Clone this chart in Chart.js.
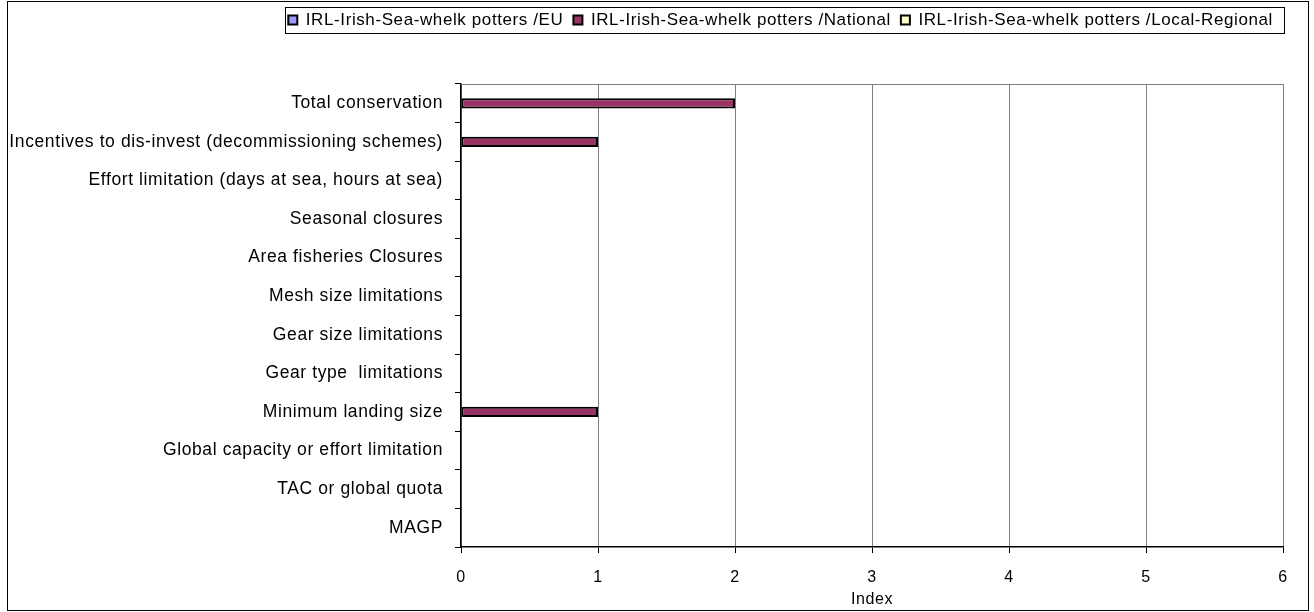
<!DOCTYPE html>
<html>
<head>
<meta charset="utf-8">
<script src="https://cdn.jsdelivr.net/npm/chart.js@4"></script>
<style>
  html, body { margin: 0; padding: 0; background: #fff; }
  #wrap { width: 1314px; height: 612px; }
</style>
</head>
<body>
<div id="wrap"><canvas id="chart" width="1314" height="612"></canvas></div>
<script>
const categories = [
  'Total conservation',
  'Incentives to dis-invest (decommissioning schemes)',
  'Effort limitation (days at sea, hours at sea)',
  'Seasonal closures',
  'Area fisheries Closures',
  'Mesh size limitations',
  'Gear size limitations',
  'Gear type  limitations',
  'Minimum landing size',
  'Global capacity or effort limitation',
  'TAC or global quota',
  'MAGP'
];
const seriesNames = [
  'IRL-Irish-Sea-whelk potters /EU',
  'IRL-Irish-Sea-whelk potters /National',
  'IRL-Irish-Sea-whelk potters /Local-Regional'
];
const euValues       = [0, 0, 0, 0, 0, 0, 0, 0, 0, 0, 0, 0];
const nationalValues = [2, 1, 0, 0, 0, 0, 0, 0, 1, 0, 0, 0];
const localValues    = [0, 0, 0, 0, 0, 0, 0, 0, 0, 0, 0, 0];
const xTicks = [0, 1, 2, 3, 4, 5, 6];

const FONT = "'Liberation Sans', Arial, sans-serif";
const SPACING = '0.6px';

// letter spacing, frame round the chart, box round the legend, top edge of plot
const framePlugin = {
  id: 'frame',
  beforeInit(chart) {
    const fit = chart.legend.fit;
    chart.legend.fit = function () {
      fit.call(this);
      this.height = 82.5;
    };
  },
  beforeLayout(chart) { chart.ctx.letterSpacing = SPACING; },
  beforeDraw(chart) { chart.ctx.letterSpacing = SPACING; },
  afterDraw(chart) {
    const ctx = chart.ctx;
    ctx.save();
    ctx.strokeStyle = '#000';
    ctx.lineWidth = 1;
    ctx.strokeRect(7.5, 1.5, 1301, 609);
    const boxes = chart.legend.legendHitBoxes;
    if (boxes && boxes.length) {
      const l = Math.min(...boxes.map(b => b.left));
      const r = Math.max(...boxes.map(b => b.left + b.width));
      ctx.strokeRect(Math.round(l) - 2.5, 7.5, Math.round(r - l) + 14, 26);
    }
    const a = chart.chartArea;
    ctx.strokeStyle = '#808080';
    ctx.beginPath();
    ctx.moveTo(a.left, a.top + 0.5);
    ctx.lineTo(a.right, a.top + 0.5);
    ctx.stroke();
    ctx.restore();
  }
};

new Chart(document.getElementById('chart'), {
  type: 'bar',
  data: {
    labels: categories,
    datasets: [
      { label: seriesNames[0], data: euValues, backgroundColor: '#9999FF' },
      { label: seriesNames[1], data: nationalValues, backgroundColor: '#993366' },
      { label: seriesNames[2], data: localValues, backgroundColor: '#FFFFCC' }
    ].map(d => Object.assign(d, { borderColor: '#000', borderWidth: 2, borderSkipped: false }))
  },
  options: {
    indexAxis: 'y',
    responsive: false,
    animation: false,
    layout: { padding: { left: 0, right: 31, top: 1.5, bottom: 0 } },
    categoryPercentage: 0.8,
    barPercentage: 1.0,
    plugins: {
      legend: {
        position: 'top',
        align: 'end',
        labels: {
          font: { family: FONT, size: 17 },
          color: '#000',
          boxWidth: 9,
          boxHeight: 9,
          padding: 10
        }
      },
      tooltip: { enabled: false }
    },
    scales: {
      x: {
        type: 'linear',
        min: 0,
        max: 6,
        afterBuildTicks(scale) { scale.ticks = xTicks.map(v => ({ value: v })); },
        afterFit(scale) { scale.height = 65; },
        grid: { color: '#808080', lineWidth: 1, drawTicks: true, tickLength: 6, tickColor: '#000' },
        border: { color: '#000', width: 1.5 },
        ticks: { font: { family: FONT, size: 16 }, color: '#000', padding: 15 },
        title: { display: true, text: 'Index', font: { family: FONT, size: 16 }, color: '#000', padding: { top: 2, bottom: 3 } }
      },
      y: {
        type: 'category',
        afterFit(scale) { scale.width = 461; },
        grid: { drawOnChartArea: false, drawTicks: true, tickLength: 6, tickColor: '#000', offset: true },
        border: { color: '#000', width: 1.5 },
        ticks: { font: { family: FONT, size: 17.5 }, color: '#000', padding: 12, autoSkip: false }
      }
    }
  },
  plugins: [framePlugin]
});
</script>
</body>
</html>
